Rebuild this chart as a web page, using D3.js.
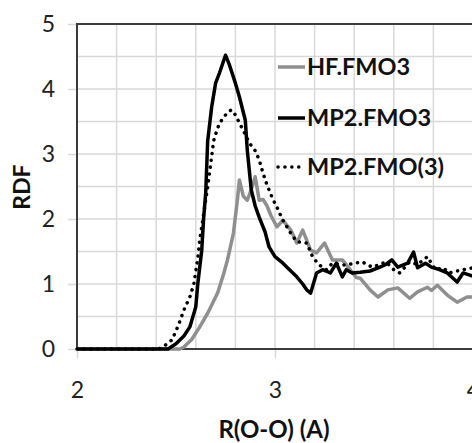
<!DOCTYPE html>
<html><head><meta charset="utf-8">
<script src="https://cdn.jsdelivr.net/npm/d3@7"></script>
<style>body{margin:0;background:#fff}svg{display:block}</style>
</head><body>
<svg id="c" width="472" height="443"></svg>
<script>
// Data (R in Å, RDF values)
const hfR = [2.00,2.52,2.54,2.58,2.62,2.66,2.71,2.74,2.76,2.79,2.81,2.82,2.84,2.86,2.88,2.90,2.92,2.94,2.96,2.98,3.01,3.04,3.08,3.11,3.14,3.18,3.21,3.25,3.29,3.34,3.38,3.41,3.43,3.48,3.52,3.57,3.62,3.68,3.72,3.77,3.79,3.82,3.87,3.92,3.97,4.00];
const hfV = [0,0,0.03,0.15,0.34,0.55,0.86,1.15,1.37,1.78,2.29,2.6,2.35,2.29,2.45,2.65,2.29,2.3,2.2,2.05,1.88,1.98,1.83,1.63,1.83,1.52,1.48,1.63,1.37,1.37,1.22,1.1,1.09,0.91,0.8,0.91,0.94,0.78,0.88,0.95,0.9,0.98,0.83,0.72,0.8,0.8];

const mp2R = [2.00,2.46,2.50,2.54,2.57,2.60,2.61,2.63,2.64,2.65,2.66,2.68,2.70,2.72,2.75,2.77,2.80,2.82,2.85,2.86,2.88,2.90,2.92,2.95,2.97,3.00,3.04,3.08,3.11,3.14,3.16,3.18,3.21,3.24,3.28,3.31,3.34,3.36,3.39,3.43,3.48,3.53,3.56,3.59,3.62,3.67,3.70,3.72,3.76,3.79,3.83,3.87,3.92,3.95,3.98,4.00];
const mp2V = [0,0,0.08,0.2,0.34,0.65,1.0,1.52,2.03,2.4,3.2,3.72,4.09,4.25,4.52,4.37,4.09,3.88,3.52,3.06,2.45,2.2,2.03,1.8,1.57,1.42,1.32,1.2,1.11,1.0,0.91,0.86,1.17,1.22,1.17,1.32,1.11,1.22,1.17,1.18,1.2,1.26,1.3,1.37,1.26,1.32,1.49,1.25,1.32,1.26,1.22,1.17,1.03,1.17,1.14,1.12];

const mp2pR = [2.00,2.41,2.43,2.48,2.51,2.54,2.57,2.59,2.61,2.62,2.65,2.66,2.69,2.71,2.73,2.76,2.78,2.80,2.82,2.85,2.87,2.90,2.92,2.94,2.96,2.99,3.01,3.04,3.08,3.11,3.16,3.19,3.22,3.26,3.29,3.33,3.36,3.40,3.44,3.49,3.53,3.56,3.60,3.63,3.68,3.72,3.77,3.81,3.85,3.88,3.92,3.95,4.00];
const mp2pV = [0,0,0.02,0.14,0.35,0.6,0.8,1.0,1.4,1.68,2.29,2.49,3.2,3.4,3.52,3.64,3.68,3.6,3.48,3.3,3.17,3.05,2.91,2.7,2.52,2.3,2.18,1.98,1.78,1.65,1.63,1.42,1.3,1.22,1.32,1.3,1.29,1.32,1.34,1.26,1.3,1.34,1.22,1.17,1.34,1.3,1.42,1.22,1.25,1.17,1.2,1.22,1.25];

const seriesNames = ["HF.FMO3","MP2.FMO3","MP2.FMO(3)"];
const xTicks = [2,3,4];
const yTicks = [0,1,2,3,4,5];
const xTitle = "R(O-O) (A)";
const yTitle = "RDF";

const svg = d3.select("#c");
const x = d3.scaleLinear().domain([2,4]).range([77,473]);
const y = d3.scaleLinear().domain([0,5]).range([349,24]);

// gridlines
const grid = svg.append("g");
grid.selectAll("line.v").data(d3.range(2.2,4.01,0.2)).join("line")
  .attr("x1",d=>x(d)).attr("x2",d=>x(d)).attr("y1",y(0)).attr("y2",y(5))
  .attr("stroke","#d9d9d9").attr("stroke-width",1.5);
grid.selectAll("line.h").data(d3.range(0.5,5,0.5)).join("line")
  .attr("x1",x(2)).attr("x2",x(4)).attr("y1",d=>y(d)).attr("y2",d=>y(d))
  .attr("stroke","#d9d9d9").attr("stroke-width",1.5);

// axes
const fontTick = "Lato, 'Open Sans', sans-serif";
const yAxis = svg.append("g").attr("transform",`translate(${x(2)},0)`)
  .call(d3.axisLeft(y).tickValues(yTicks).tickSize(9).tickPadding(13).tickFormat(d3.format("d")));
yAxis.select(".domain").remove();
yAxis.selectAll("line").attr("stroke","#d9d9d9").attr("stroke-width",1.5);
yAxis.selectAll("text").attr("font-family",fontTick).attr("font-size",23).attr("fill","#222");

const xAxis = svg.append("g").attr("transform",`translate(0,${y(0)})`)
  .call(d3.axisBottom(x).tickValues(xTicks).tickSize(9).tickPadding(24).tickFormat(d3.format("d")));
xAxis.select(".domain").remove();
xAxis.selectAll("line").attr("stroke","#d9d9d9").attr("stroke-width",1.5);
xAxis.selectAll("text").attr("font-family",fontTick).attr("font-size",23).attr("fill","#222");

// plot frame
svg.append("rect").attr("x",x(2)).attr("y",y(5)).attr("width",x(4)-x(2)).attr("height",y(0)-y(5))
  .attr("fill","none").attr("stroke","#3c3c3c").attr("stroke-width",2);

// lines
const line = d3.line().x(d=>x(d[0])).y(d=>y(d[1])).curve(d3.curveLinear);
const series = [
  {name:seriesNames[0], pts:d3.zip(hfR,hfV), color:"#8f8f8f", dash:null},
  {name:seriesNames[1], pts:d3.zip(mp2R,mp2V), color:"#000", dash:null},
  {name:seriesNames[2], pts:d3.zip(mp2pR,mp2pV), color:"#000", dash:"0.1 6.8"}
];
svg.selectAll("path.s").data(series).join("path")
  .attr("d",d=>line(d.pts)).attr("fill","none")
  .attr("stroke",d=>d.color).attr("stroke-width",3.5)
  .attr("stroke-linejoin","round").attr("stroke-linecap",d=>d.dash?"round":"butt")
  .attr("stroke-dasharray",d=>d.dash);

// legend
const leg = svg.append("g");
const legY = [67,118,167];
series.forEach((s,i)=>{
  leg.append("line").attr("x1",278).attr("x2",305).attr("y1",legY[i]).attr("y2",legY[i])
    .attr("stroke",s.color).attr("stroke-width",3.5)
    .attr("stroke-linecap",s.dash?"round":"butt").attr("stroke-dasharray",s.dash);
  leg.append("text").attr("x",307).attr("y",legY[i]).attr("dy","0.36em")
    .attr("font-family",fontTick).attr("font-weight","bold").attr("font-size",23.5)
    .attr("fill","#111").text(s.name);
});

// titles
svg.append("text").attr("x",274).attr("y",438).attr("text-anchor","middle")
  .attr("font-family",fontTick).attr("font-weight","bold").attr("font-size",24).attr("fill","#111").text(xTitle);
svg.append("text").attr("transform","translate(30,187) rotate(-90)").attr("text-anchor","middle")
  .attr("font-family",fontTick).attr("font-weight","bold").attr("font-size",23).attr("fill","#111").text(yTitle);
</script>
</body></html>
